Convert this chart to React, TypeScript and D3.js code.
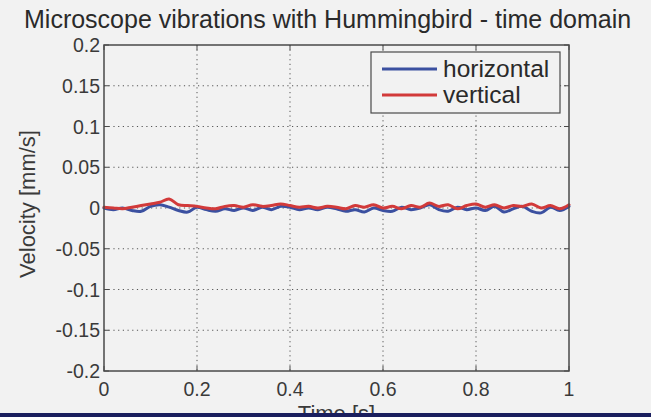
import React from "react";
import * as d3 from "d3";

const times = d3.range(0, 51).map((i) => i / 50);
const horizontal = [
  0.0, -0.002, 0.0, -0.003, -0.004, 0.002, 0.004, 0.001, -0.003, -0.005,
  0.001, -0.002, -0.004, -0.001, -0.003, 0.0, -0.003, 0.001, -0.002, 0.002,
  0.001, -0.002, 0.0, -0.002, 0.001, -0.001, -0.004, -0.002, -0.005, 0.0,
  -0.003, -0.004, 0.001, -0.002, 0.0, 0.004, -0.002, -0.004, 0.001, -0.002,
  0.0, -0.003, 0.002, -0.005, -0.001, 0.002, -0.004, -0.006, 0.001, -0.003,
  0.002,
];
const vertical = [
  0.001, 0.0, -0.001, 0.001, 0.003, 0.005, 0.007, 0.011, 0.004, 0.003,
  0.002, 0.0, -0.001, 0.002, 0.003, 0.001, 0.004, 0.002, 0.003, 0.005,
  0.003, 0.001, 0.002, 0.0, 0.002, 0.001, -0.001, 0.003, 0.001, 0.004,
  0.0, 0.002, -0.001, 0.003, 0.001, 0.006, 0.002, 0.004, -0.001, 0.003,
  0.005, 0.001, 0.004, 0.0, 0.003, 0.002, 0.005, 0.0, 0.003, -0.001,
  0.004,
];
const xTicks = [0, 0.2, 0.4, 0.6, 0.8, 1];
const xTickLabels = ["0", "0.2", "0.4", "0.6", "0.8", "1"];
const yTicks = [0.2, 0.15, 0.1, 0.05, 0, -0.05, -0.1, -0.15, -0.2];
const yTickLabels = ["0.2", "0.15", "0.1", "0.05", "0", "-0.05", "-0.1", "-0.15", "-0.2"];
const seriesNames = ["horizontal", "vertical"];
const seriesColors = ["#3b50a0", "#d23a3a"];

const W = 651;
const H = 417;
const L = 104, R = 569, T = 45, B = 371;
const FONT = "'Liberation Sans', Arial, sans-serif";

export default function App() {
  const x = d3.scaleLinear().domain([0, 1]).range([L, R]);
  const y = d3.scaleLinear().domain([-0.2, 0.2]).range([B, T]);
  const line = d3
    .line<number>()
    .x((_, i) => x(times[i]))
    .y((d) => y(d))
    .curve(d3.curveCatmullRom);
  const series = [horizontal, vertical];
  const axisColor = "#4a4a4a";
  const tickLen = 5;

  return (
    <svg
      width={W}
      height={H}
      style={{ position: "absolute", left: 0, top: 0, display: "block" }}
      fontFamily={FONT}
    >
      <rect x={0} y={0} width={W} height={H} fill="#f2f2f2" />
      {/* title */}
      <text x={24} y={28} fontSize={25} fill="#2a2a2a">
        Microscope vibrations with Hummingbird - time domain
      </text>
      {/* grid */}
      {xTicks.slice(1, -1).map((t) => (
        <line
          key={"gx" + t}
          x1={x(t)}
          x2={x(t)}
          y1={T}
          y2={B}
          stroke="#555"
          strokeWidth={1}
          strokeDasharray="1.2,3.5"
        />
      ))}
      {yTicks.slice(1, -1).map((t) => (
        <line
          key={"gy" + t}
          x1={L}
          x2={R}
          y1={y(t)}
          y2={y(t)}
          stroke="#555"
          strokeWidth={1}
          strokeDasharray="1.2,3.5"
        />
      ))}
      {/* ticks inward on all sides */}
      {xTicks.map((t) => (
        <g key={"tx" + t} stroke={axisColor} strokeWidth={1}>
          <line x1={x(t)} x2={x(t)} y1={B} y2={B - tickLen} />
          <line x1={x(t)} x2={x(t)} y1={T} y2={T + tickLen} />
        </g>
      ))}
      {yTicks.map((t) => (
        <g key={"ty" + t} stroke={axisColor} strokeWidth={1}>
          <line x1={L} x2={L + tickLen} y1={y(t)} y2={y(t)} />
          <line x1={R} x2={R - tickLen} y1={y(t)} y2={y(t)} />
        </g>
      ))}
      {/* data */}
      {series.map((s, i) => (
        <path
          key={seriesNames[i]}
          d={line(s) || ""}
          fill="none"
          stroke={seriesColors[i]}
          strokeWidth={3}
          strokeLinejoin="round"
          strokeLinecap="round"
        />
      ))}
      {/* axes box */}
      <rect
        x={L}
        y={T}
        width={R - L}
        height={B - T}
        fill="none"
        stroke={axisColor}
        strokeWidth={1.5}
      />
      {/* tick labels */}
      {yTicks.map((t, i) => (
        <text
          key={"ly" + t}
          x={L - 4}
          y={y(t) + 7}
          fontSize={19.5}
          textAnchor="end"
          fill="#3a3a3a"
        >
          {yTickLabels[i]}
        </text>
      ))}
      {xTicks.map((t, i) => (
        <text
          key={"lx" + t}
          x={x(t)}
          y={396}
          fontSize={19.5}
          textAnchor="middle"
          fill="#3a3a3a"
        >
          {xTickLabels[i]}
        </text>
      ))}
      {/* axis labels */}
      <text
        transform={`translate(35, ${(T + B) / 2 - 4}) rotate(-90)`}
        fontSize={22}
        textAnchor="middle"
        fill="#3a3a3a"
      >
        Velocity [mm/s]
      </text>
      <text x={(L + R) / 2} y={421} fontSize={22} textAnchor="middle" fill="#3a3a3a">
        Time [s]
      </text>
      {/* legend */}
      <rect x={371} y={52} width={189} height={61} fill="#f2f2f2" stroke={axisColor} strokeWidth={1.2} />
      {seriesNames.map((n, i) => (
        <g key={"lg" + n}>
          <line
            x1={382}
            x2={437}
            y1={69 + i * 26}
            y2={69 + i * 26}
            stroke={seriesColors[i]}
            strokeWidth={3}
          />
          <text x={443} y={69 + i * 26 + 8} fontSize={24.5} fill="#2a2a2a">
            {n}
          </text>
        </g>
      ))}
      {/* bottom bar */}
      <rect x={0} y={413} width={W} height={4} fill="#1a1e5e" />
    </svg>
  );
}
